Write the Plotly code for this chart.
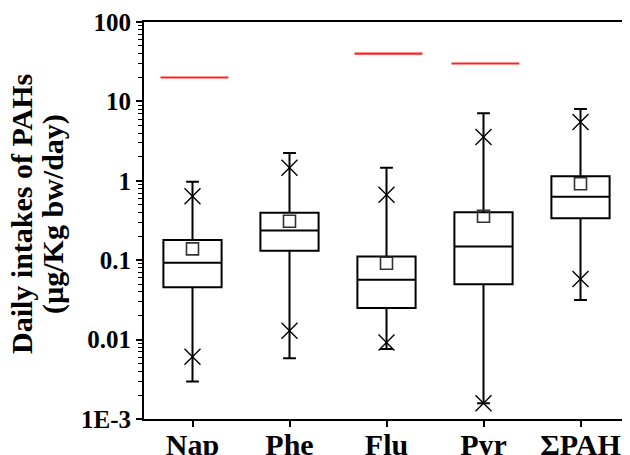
import plotly.graph_objects as go

categories = ["Nap", "Phe", "Flu", "Pyr", "ΣPAH"]
positions = [1, 2, 3, 4, 5]
q1 = [0.0455, 0.132, 0.025, 0.0497, 0.338]
median = [0.093, 0.237, 0.0569, 0.1485, 0.63]
q3 = [0.18, 0.395, 0.111, 0.403, 1.14]
whisker_low = [0.00296, 0.00584, 0.0076, 0.00158, 0.0315]
whisker_high = [0.97, 2.24, 1.46, 7.1, 8.04]
means = [0.139, 0.31, 0.0914, 0.358, 0.92]
pct_low = [0.0061, 0.0129, 0.0092, 0.00158, 0.058]
pct_high = [0.64, 1.46, 0.667, 3.56, 5.5]

ref_cats = [1, 3, 4]
ref_values = [20, 40, 30]

y_tickvals = [0.001, 0.01, 0.1, 1, 10, 100]
y_ticktext = ["1E-3", "0.01", "0.1", "1", "10", "100"]

FONT = "Liberation Serif"

fig = go.Figure()

fig.add_trace(go.Box(
    x=positions, q1=q1, median=median, q3=q3,
    lowerfence=whisker_low, upperfence=whisker_high,
    width=0.6, whiskerwidth=0.22,
    fillcolor="rgba(255,255,255,0)",
    line=dict(color="black", width=2),
    boxpoints=False, hoverinfo="skip", showlegend=False,
))

# mean squares
fig.add_trace(go.Scatter(
    x=positions, y=means, mode="markers",
    marker=dict(symbol="square-open", size=12, color="#333333",
                line=dict(width=1.6, color="#333333")),
    showlegend=False, hoverinfo="skip",
))

# percentile crosses
fig.add_trace(go.Scatter(
    x=positions + positions, y=pct_low + pct_high, mode="markers",
    marker=dict(symbol="x-thin", size=16, color="black",
                line=dict(width=1.4, color="black")),
    showlegend=False, hoverinfo="skip",
))

# reference lines
for c, v in zip(ref_cats, ref_values):
    fig.add_trace(go.Scatter(
        x=[c - 0.33, c + 0.37], y=[v, v], mode="lines",
        line=dict(color="#ff2222", width=2.2),
        showlegend=False, hoverinfo="skip",
    ))

# page has an 8px body margin, so the figure is sized/offset to compensate
fig.update_layout(
    width=622, height=447,
    margin=dict(l=136, r=1, t=14, b=36, autoexpand=False),
    paper_bgcolor="white", plot_bgcolor="white",
    font=dict(family=FONT, color="black"),
)

fig.update_xaxes(
    range=[0.5, 5.5], tickvals=positions, ticktext=categories,
    automargin=False,
    showgrid=False, zeroline=False,
    showline=True, linecolor="black", linewidth=2, mirror=True,
    ticks="outside", ticklen=6, tickwidth=2, tickcolor="black",
    ticklabelstandoff=-8,
    tickfont=dict(family=FONT, size=30, weight="bold", color="black"),
)

fig.update_yaxes(
    type="log", range=[-3, 2], tickvals=y_tickvals, ticktext=y_ticktext,
    automargin=False,
    showgrid=False, zeroline=False,
    showline=True, linecolor="black", linewidth=2,
    ticks="outside", ticklen=6, tickwidth=2, tickcolor="black",
    tickfont=dict(family=FONT, size=25, weight="bold", color="black"),
    minor=dict(ticks="outside", ticklen=4, tickwidth=1.3, tickcolor="black",
               dtick="D1", showgrid=False),
)

# right border
fig.add_shape(type="line", xref="paper", yref="paper", x0=1, x1=1, y0=0, y1=1,
              line=dict(color="#888888", width=1))

fig.add_annotation(
    text="Daily intakes of PAHs", xref="paper", yref="paper",
    x=(21 - 144) / 485, y=(419 - 214) / 397, textangle=-90,
    xanchor="center", yanchor="middle", showarrow=False,
    font=dict(family=FONT, size=30, weight="bold", color="black"),
)
fig.add_annotation(
    text="(µg/Kg bw/day)", xref="paper", yref="paper",
    x=(53 - 144) / 485, y=(419 - 214) / 397, textangle=-90,
    xanchor="center", yanchor="middle", showarrow=False,
    font=dict(family=FONT, size=30, weight="bold", color="black"),
)

fig.write_html("out.html")
